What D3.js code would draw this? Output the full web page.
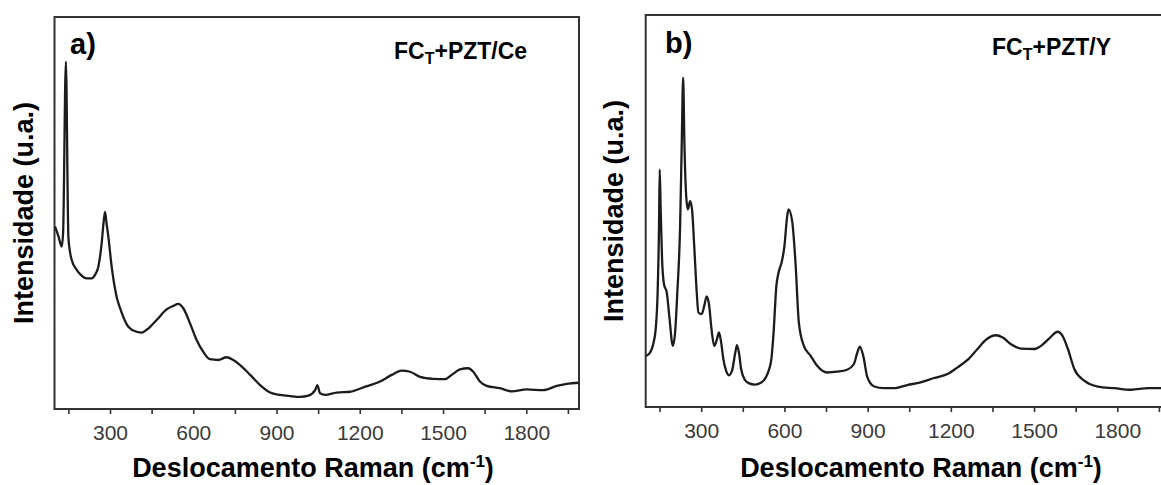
<!DOCTYPE html>
<html>
<head>
<meta charset="utf-8">
<script src="https://cdn.jsdelivr.net/npm/d3@7"></script>
<style>
    body { margin: 0; background: #fff; }
    text { font-family: "Liberation Sans", Arial, sans-serif; }
</style>
</head>
<body>
<svg id="chart" width="1161" height="485"></svg>
<script>
// Raman shift (cm-1) and intensity (a.u.)
const shiftA = [102, 114, 126, 131, 141, 150, 156, 162, 180, 195, 216, 234, 246, 258, 270, 277, 282, 287, 294, 306,
    324, 336, 366, 396, 414, 432, 468, 504, 528, 546, 564, 588, 612, 636, 660, 690, 720, 744, 775, 805,
    841, 877, 913, 949, 985, 1015, 1039, 1047, 1057, 1075, 1117, 1165, 1213, 1273, 1315, 1351, 1381, 1417, 1465, 1507,
    1531, 1561, 1591, 1609, 1633, 1657, 1705, 1748, 1802, 1861, 1910, 1946, 1990]
const intensityA = [46.5, 44.1, 41.4, 45, 88.6, 44, 40, 38, 35.5, 34.2, 33.3, 33.3, 34.2, 36.3, 42.3, 47.7, 50.3, 47.7, 44, 36.3,
    28.6, 25.8, 21, 19.7, 19.5, 20.2, 22.7, 25.4, 26.3, 26.8, 25.7, 21.9, 17.6, 14.6, 12.7, 12.5, 13.2, 12.5, 10.8, 8.7,
    6.1, 4.2, 3.6, 3.3, 3.1, 3.4, 4.8, 6.1, 4.0, 3.6, 4.2, 4.4, 5.5, 7.0, 8.7, 9.8, 9.5, 8.2, 7.7, 7.6,
    8.7, 10.1, 10.4, 9.5, 7.0, 5.9, 5.3, 4.5, 5.0, 4.8, 5.9, 6.4, 6.7]

const shiftB = [101, 116, 127, 137, 143, 148, 150.5, 154, 159, 166, 176, 185, 198, 206, 214, 224, 230, 235, 239.5, 246,
    252, 260, 267, 275, 284, 290, 302, 311, 320, 329, 336, 347, 357, 364, 372, 380, 390, 400, 411, 423,
    429, 436, 444, 456, 471, 495, 513, 531, 543, 553, 561, 571, 579, 591, 600, 610, 615, 628, 640, 652,
    670, 694, 718, 754, 790, 826, 850, 863, 872, 884, 899, 922, 959, 995, 1043, 1091, 1139, 1188, 1224, 1260,
    1296, 1326, 1362, 1387, 1417, 1453, 1501, 1525, 1555, 1585, 1603, 1622, 1645, 1681, 1730, 1790, 1850, 1911, 1963, 1990]
const intensityB = [13, 13.9, 16, 20.7, 29.2, 46.1, 60.6, 50.4, 37.7, 31.3, 29.2, 23.2, 15.6, 19, 29.2, 46.1, 67.4, 84, 67.4, 53.8,
    50.4, 52.5, 50.4, 41, 29.2, 24.1, 23.7, 25.8, 28.2, 25.8, 20.7, 15.6, 17.3, 19, 16.5, 12.2, 9.2, 8.1, 9.2, 13.9,
    15.8, 13.9, 9.7, 7.1, 6.1, 5.7, 6.1, 7.3, 9.2, 12.2, 19, 30.9, 34.3, 37.2, 41, 48.7, 50.4, 47.4, 36.8, 21.6,
    15.6, 13.1, 10.5, 8.8, 9, 9.5, 10.9, 13.9, 15.4, 13.1, 7.6, 5.3, 4.8, 4.8, 5.6, 6.3, 7.4, 8.4, 10.1, 12,
    14.8, 17.1, 18.3, 17.7, 16, 14.9, 14.8, 15.6, 17.5, 19.2, 18.1, 14.8, 9.7, 6.7, 5.2, 4.8, 4.4, 4.8, 4.8, 4.8]

const majorTicks = [300, 600, 900, 1200, 1500, 1800]
const minorTicks = [150, 450, 750, 1050, 1350, 1650, 1950]
const panelLetters = ['a)', 'b)']
const sampleNames = [['FC', 'T', '+PZT/Ce'], ['FC', 'T', '+PZT/Y']]

const X_DOMAIN = [100, 1990]
const Y_DOMAIN = [0, 100]
const STROKE_COLOR = '#1c1c1c'
const FRAME_COLOR = '#333'

const panels = [
    { left: 54.5, right: 579, top: 17, bottom: 409, xTitle: 313, yTitle: 33, letterX: 70, letterY: 54, nameX: 394, nameY: 59,
        shift: shiftA, intensity: intensityA, letter: panelLetters[0], name: sampleNames[0] },
    { left: 645.7, right: 1170, top: 15, bottom: 407, xTitle: 921, yTitle: 623, letterX: 665, letterY: 53, nameX: 992, nameY: 55,
        shift: shiftB, intensity: intensityB, letter: panelLetters[1], name: sampleNames[1] }
]

const svg = d3.select('#chart')

const drawPanel = p => {
    const x = d3.scaleLinear().domain(X_DOMAIN).range([p.left, p.right])
    const y = d3.scaleLinear().domain(Y_DOMAIN).range([p.bottom, p.top])
    const g = svg.append('g')

    g.append('rect')
        .attr('x', p.left)
        .attr('y', p.top)
        .attr('width', p.right - p.left)
        .attr('height', p.bottom - p.top)
        .attr('fill', 'none')
        .attr('stroke', FRAME_COLOR)
        .attr('stroke-width', 2)

    // minor ticks, no labels
    g.append('g')
        .attr('transform', `translate(0,${p.bottom})`)
        .call(d3.axisBottom(x).tickValues(minorTicks).tickSize(5).tickFormat(''))
        .call(a => a.select('.domain').remove())
        .call(a => a.selectAll('line').attr('stroke', FRAME_COLOR).attr('stroke-width', 1.6))

    g.append('g')
        .attr('transform', `translate(0,${p.bottom})`)
        .call(d3.axisBottom(x).tickValues(majorTicks).tickSize(5).tickPadding(11).tickFormat(d3.format('d')))
        .call(a => a.select('.domain').remove())
        .call(a => a.selectAll('line').attr('stroke', FRAME_COLOR).attr('stroke-width', 1.6))
        .call(a => a.selectAll('text')
            .attr('font-size', 21)
            .attr('font-family', '"Liberation Sans", Arial, sans-serif')
            .attr('fill', '#3a3a3a'))

    const line = d3.line()
        .x(d => x(d[0]))
        .y(d => y(d[1]))
        .curve(d3.curveMonotoneX)

    g.append('path')
        .datum(p.shift.map((s, i) => [s, p.intensity[i]]))
        .attr('d', line)
        .attr('fill', 'none')
        .attr('stroke', STROKE_COLOR)
        .attr('stroke-width', 2.3)
        .attr('stroke-linejoin', 'round')

    g.append('text')
        .attr('x', p.letterX)
        .attr('y', p.letterY)
        .attr('font-size', 29)
        .attr('font-weight', 'bold')
        .text(p.letter)

    const name = g.append('text')
        .attr('x', p.nameX)
        .attr('y', p.nameY)
        .attr('font-size', 23)
        .attr('font-weight', 'bold')
    name.append('tspan').text(p.name[0])
    name.append('tspan').attr('dy', 5).attr('font-size', 16).text(p.name[1])
    name.append('tspan').attr('dy', -5).text(p.name[2])

    const xLabel = g.append('text')
        .attr('x', p.xTitle)
        .attr('y', 477)
        .attr('text-anchor', 'middle')
        .attr('font-size', 27)
        .attr('font-weight', 'bold')
    xLabel.append('tspan').text('Deslocamento Raman (cm')
    xLabel.append('tspan').attr('dy', -10).attr('font-size', 17).text('-1')
    xLabel.append('tspan').attr('dy', 10).text(')')

    g.append('text')
        .attr('transform', `translate(${p.yTitle},${(p.top + p.bottom) / 2}) rotate(-90)`)
        .attr('text-anchor', 'middle')
        .attr('font-size', 27)
        .attr('font-weight', 'bold')
        .text('Intensidade (u.a.)')
}

panels.forEach(drawPanel)
</script>
</body>
</html>
